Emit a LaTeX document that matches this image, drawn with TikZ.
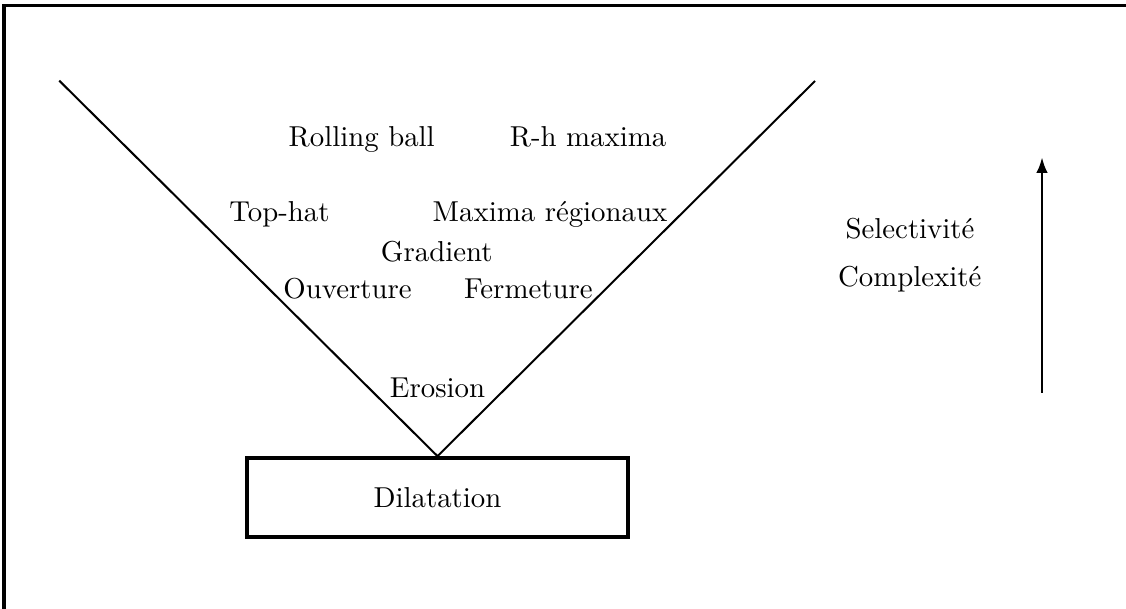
\documentclass[tikz,border=0pt]{standalone}
\usetikzlibrary{arrows.meta}
\begin{document}
\begin{tikzpicture}[x=0.3472pt,y=-0.3472pt,
  lbl/.style={anchor=base,inner sep=0pt,font=\normalsize},
  vline/.style={line width=0.7pt},
  boxstyle/.style={draw,line width=1.3pt,minimum width=132.3pt,minimum height=27.4pt,inner sep=0pt},
  frameline/.style={line width=1.3pt},
  upar/.style={line width=1pt,-{Latex[length=5.5pt,width=4pt]}}]
\useasboundingbox (0,0) rectangle (1126,609);
% frame (only top and left edges visible)
\draw[frameline] (3.7,612) -- (3.7,5.5) -- (1130,5.5);
% base box
\node[boxstyle] (dil) at (437.5,497.5) {Dilatation};
% V shape
\coordinate (tl) at (59.3,80.7);
\coordinate (tr) at (815,81);
\draw[vline] (tl) -- (dil.north) -- (tr);
% labels
\node[lbl] (rb) at (361.7,147) {Rolling ball};
\node[lbl] (rh) at (588,147) {R-h maxima};
\node[lbl] (th) at (279.5,221.7) {Top-hat};
\node[lbl] (mr) at (550,221.7) {Maxima régionaux};
\node[lbl] (gr) at (436.7,261.7) {Gradient};
\node[lbl] (ou) at (347.5,298.3) {Ouverture};
\node[lbl] (fe) at (528.3,298.3) {Fermeture};
\node[lbl] (er) at (437.5,397.3) {Erosion};
\node[lbl] (se) at (910,238.3) {Selectivité};
\node[lbl] (co) at (909.7,286.5) {Complexité};
% arrow
\coordinate (ab) at (1042,393);
\coordinate (at) at (1042,157);
\draw[upar] (ab) -- (at);
\end{tikzpicture}
\end{document}
